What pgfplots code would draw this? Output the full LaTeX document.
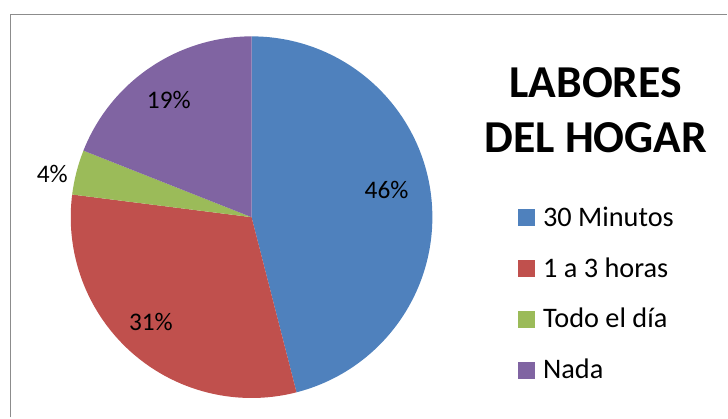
\documentclass[border=0pt]{standalone}
\usepackage{pgfplots}
\pgfplotsset{compat=1.18}
\usepackage{fontspec}
\setmainfont{Carlito}
\definecolor{cblue}{HTML}{4F81BD}
\definecolor{cred}{HTML}{C0504D}
\definecolor{cgreen}{HTML}{9BBB59}
\definecolor{cpurple}{HTML}{8064A2}
\definecolor{frame}{HTML}{8C8C8C}
% cumulative start, value, colour
\newcommand\slice[3]{%
  \fill[#3] (axis cs:252.5,199) -- ++({90-3.6*(#1)}:181.5bp)
    arc[start angle={90-3.6*(#1)}, end angle={90-3.6*(#1+#2)}, radius=181.5bp] -- cycle;}
\newcommand\legsq[1]{\addlegendimage{legend image code/.code={\path[draw=none,fill=none] (0bp,-7bp) rectangle (25bp,10bp);\fill[#1,draw=none] (0bp,-7bp) rectangle (17bp,10bp);}}}
\begin{document}
\begin{tikzpicture}
\begin{axis}[
  width=728bp, height=417bp, scale only axis, hide axis, clip=false,
  xmin=0, xmax=728, ymin=0, ymax=417,
  legend cell align=left,
  legend style={at={(axis cs:520,210)}, anchor=north west, draw=none, fill=none,
    inner sep=0pt, font=\fontsize{28.5}{34}\selectfont, row sep=25bp,
    nodes={inner sep=0pt, text height=20bp, text depth=6bp}},
]
\path (axis cs:0,0) rectangle (axis cs:728,417);
\draw[frame, line width=1.5bp] (axis cs:10.5,-2) -- (axis cs:10.5,402.5) -- (axis cs:730,402.5);
\slice{0}{46}{cblue}
\slice{46}{31}{cred}
\slice{77}{4}{cgreen}
\slice{81}{19}{cpurple}
\legsq{cblue}\addlegendentry{30 Minutos}
\legsq{cred}\addlegendentry{1 a 3 horas}
\legsq{cgreen}\addlegendentry{Todo el día}
\legsq{cpurple}\addlegendentry{Nada}
\begin{scope}[every node/.style={font=\fontsize{25.5}{30}\selectfont, inner sep=0pt, anchor=base}]
\node at (axis cs:388,218) {46\%};
\node at (axis cs:151.5,85) {31\%};
\node at (axis cs:52.5,234) {4\%};
\node at (axis cs:169.5,308) {19\%};
\end{scope}
\node[font=\fontsize{46}{55}\selectfont\bfseries, inner sep=0pt, anchor=base] at (axis cs:598,319) {LABORES};
\node[font=\fontsize{46}{55}\selectfont\bfseries, inner sep=0pt, anchor=base] at (axis cs:598,264) {DEL HOGAR};
\end{axis}
\end{tikzpicture}
\end{document}
